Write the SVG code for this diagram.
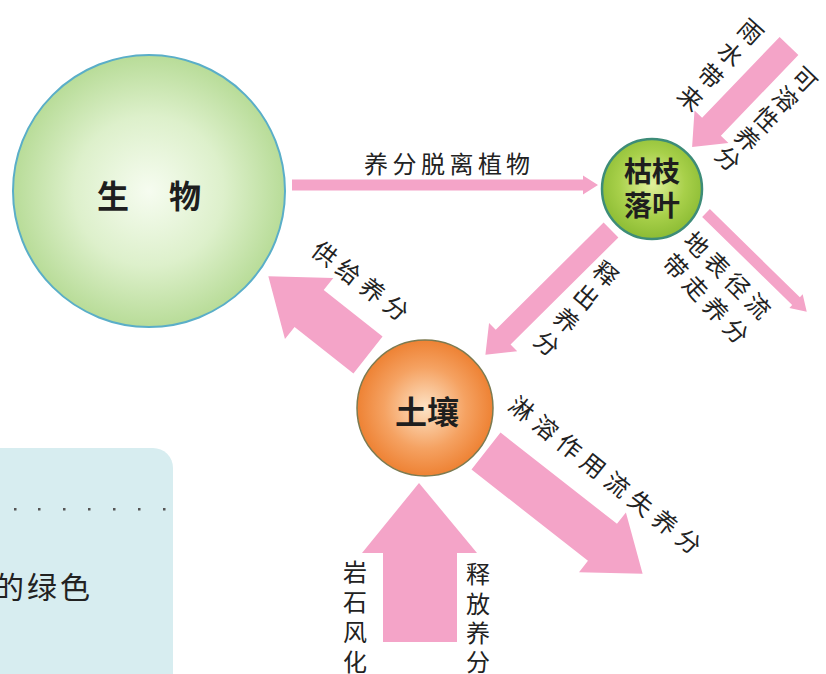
<svg xmlns="http://www.w3.org/2000/svg" width="826" height="674" viewBox="0 0 826 674">
<defs>
<radialGradient id="gBio" cx="50%" cy="50%" r="50%">
<stop offset="0" stop-color="#f6fcf0"/>
<stop offset="0.55" stop-color="#ddf0cb"/>
<stop offset="1" stop-color="#b8dc98"/>
</radialGradient>
<radialGradient id="gLeaf" cx="50%" cy="45%" r="55%">
<stop offset="0" stop-color="#e2f09c"/>
<stop offset="0.6" stop-color="#a8d04a"/>
<stop offset="1" stop-color="#8cbc34"/>
</radialGradient>
<radialGradient id="gSoil" cx="50%" cy="50%" r="50%">
<stop offset="0" stop-color="#fde3c6"/>
<stop offset="0.6" stop-color="#f5a262"/>
<stop offset="1" stop-color="#ee8234"/>
</radialGradient>
<style>
.arr{fill:#f4a4c8}
.lbl{font-family:"Noto Sans CJK SC","Noto Sans",sans-serif;font-size:24px;fill:#222;text-anchor:middle;dominant-baseline:central}
.node{font-family:"Noto Sans CJK SC","Noto Sans",sans-serif;font-weight:700;fill:#1e1e1e;text-anchor:middle;dominant-baseline:central}
</style>
</defs>

<g id="sidebox">
<rect x="-20" y="448" width="193" height="260" rx="20" fill="#d7edf0"/>
<g fill="#555">
<rect x="14" y="508" width="2.5" height="2.5"/><rect x="38" y="508" width="2.5" height="2.5"/><rect x="63" y="508" width="2.5" height="2.5"/><rect x="88" y="508" width="2.5" height="2.5"/><rect x="113" y="508" width="2.5" height="2.5"/><rect x="138" y="508" width="2.5" height="2.5"/><rect x="163" y="508" width="2.5" height="2.5"/>
</g>
<text x="-6" y="585" font-family="Noto Sans CJK SC, sans-serif" font-size="30" fill="#222" letter-spacing="3" dominant-baseline="central">的绿色</text>
</g>

<g id="connectors">
<polygon class="arr" transform="translate(292,185)" points="0,-5.5 291,-5.5 291,-9.5 306,0 291,9.5 291,5.5 0,5.5"/>
<polygon class="arr" transform="translate(789,46) rotate(133.8)" points="0,-13 112,-13 112,-23.5 140,0 112,23.5 112,13 0,13"/>
<polygon class="arr" transform="translate(706,213) rotate(44.4)" points="0,-5.5 126,-5.5 126,-9.5 141,0 126,9.5 126,5.5 0,5.5"/>
<polygon class="arr" transform="translate(611,230) rotate(135.2)" points="0,-10.5 152,-10.5 152,-20 177,0 152,20 152,10.5 0,10.5"/>
<polygon class="arr" transform="translate(368,355) rotate(218.3)" points="0,-23.5 75,-23.5 75,-39 127,0 75,39 75,23.5 0,23.5"/>
<polygon class="arr" transform="translate(486,451) rotate(38.1)" points="0,-23.5 148,-23.5 148,-38 199,0 148,38 148,23.5 0,23.5"/>
<polygon class="arr" points="383,642 383,553 362,553 419,483 477,553 457,553 457,642"/>

<text class="lbl" font-size="25"><tspan x="376" y="162">养</tspan><tspan x="404.5" y="162">分</tspan><tspan x="433" y="162">脱</tspan><tspan x="461.5" y="162">离</tspan><tspan x="490" y="162">植</tspan><tspan x="518" y="162">物</tspan></text>

<g transform="translate(752,30) rotate(42)"><text class="lbl" font-size="22"><tspan x="0" y="0">雨</tspan><tspan x="0" y="30">水</tspan><tspan x="0" y="60">带</tspan><tspan x="0" y="90">来</tspan></text></g>
<g transform="translate(806,78) rotate(44)"><text class="lbl" font-size="22"><tspan x="0" y="0">可</tspan><tspan x="0" y="27.5">溶</tspan><tspan x="0" y="55">性</tspan><tspan x="0" y="82.5">养</tspan><tspan x="0" y="110">分</tspan></text></g>

<g transform="translate(698,243) rotate(45)"><text class="lbl" font-size="23"><tspan x="0" y="0">地</tspan><tspan x="29" y="0">表</tspan><tspan x="58" y="0">径</tspan><tspan x="87" y="0">流</tspan></text></g>
<g transform="translate(677,265) rotate(47)"><text class="lbl" font-size="23"><tspan x="0" y="0">带</tspan><tspan x="29.5" y="0">走</tspan><tspan x="59" y="0">养</tspan><tspan x="88.5" y="0">分</tspan></text></g>

<g transform="translate(607,272) rotate(40)"><text class="lbl" font-size="23"><tspan x="0" y="0">释</tspan><tspan x="0" y="30.5">出</tspan><tspan x="0" y="61">养</tspan><tspan x="0" y="91.5">分</tspan></text></g>

<g transform="translate(326,252) rotate(37.4)"><text class="lbl" font-size="23"><tspan x="0" y="0">供</tspan><tspan x="30" y="0">给</tspan><tspan x="60" y="0">养</tspan><tspan x="90" y="0">分</tspan></text></g>

<g transform="translate(523,407) rotate(38.5)"><text class="lbl" font-size="23"><tspan x="0" y="0">淋</tspan><tspan x="30.5" y="0">溶</tspan><tspan x="61" y="0">作</tspan><tspan x="91.5" y="0">用</tspan><tspan x="122" y="0">流</tspan><tspan x="152.5" y="0">失</tspan><tspan x="183" y="0">养</tspan><tspan x="213.5" y="0">分</tspan></text></g>

<text class="lbl" font-size="25"><tspan x="355" y="570">岩</tspan><tspan x="355" y="600">石</tspan><tspan x="355" y="630">风</tspan><tspan x="355" y="660">化</tspan></text>
<text class="lbl" font-size="25"><tspan x="478" y="572">释</tspan><tspan x="478" y="602">放</tspan><tspan x="478" y="631">养</tspan><tspan x="478" y="660">分</tspan></text>
</g>

<g id="node-bio">
<circle cx="149" cy="191" r="136" fill="url(#gBio)" stroke="#5aaec8" stroke-width="2"/>
<text class="node" font-size="32"><tspan x="113" y="194">生</tspan><tspan x="185" y="194">物</tspan></text>
</g>

<g id="node-litter">
<circle cx="652" cy="189" r="50" fill="url(#gLeaf)" stroke="#3d8c78" stroke-width="2.5"/>
<text class="node" font-size="28" x="652" y="170">枯枝</text>
<text class="node" font-size="28" x="652" y="204">落叶</text>
</g>

<g id="node-soil">
<circle cx="425" cy="408" r="68" fill="url(#gSoil)" stroke="#7c7a50" stroke-width="1.5"/>
<text class="node" font-size="32" x="427" y="410">土壤</text>
</g>
</svg>
